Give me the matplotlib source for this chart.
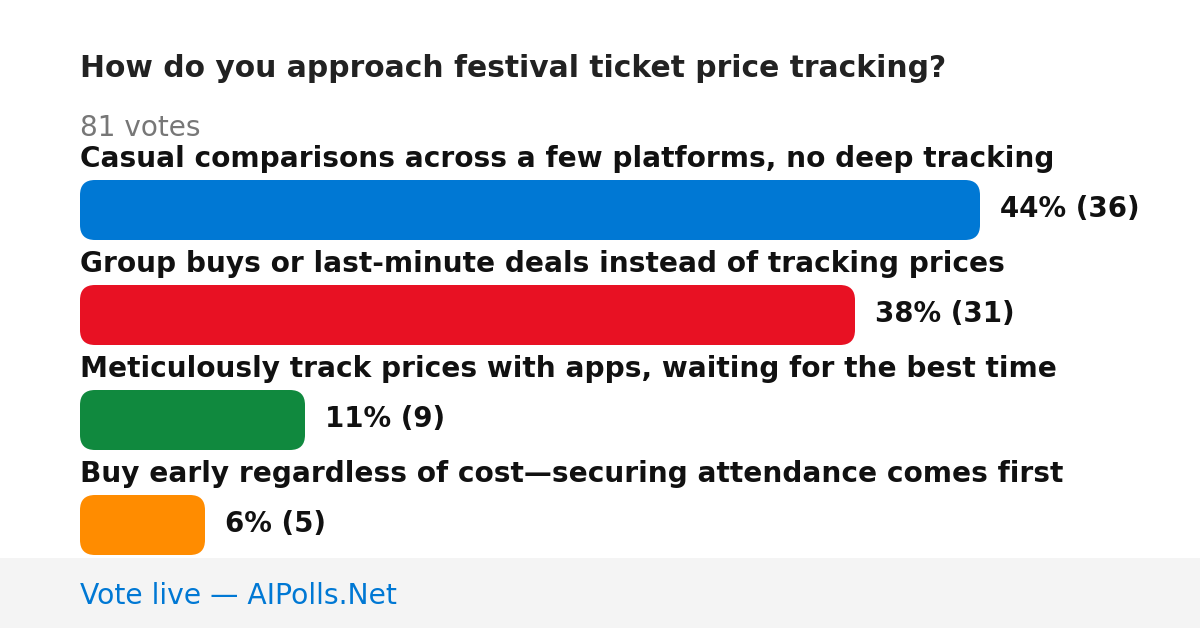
import matplotlib
matplotlib.use("Agg")
import matplotlib.pyplot as plt
from matplotlib.patches import FancyBboxPatch, Rectangle

plt.rcParams["font.family"] = ["DejaVu Sans"]

title = "How do you approach festival ticket price tracking?"
total_label = "81 votes"
options = [
    "Casual comparisons across a few platforms, no deep tracking",
    "Group buys or last-minute deals instead of tracking prices",
    "Meticulously track prices with apps, waiting for the best time",
    "Buy early regardless of cost\u2014securing attendance comes first",
]
votes = [36, 31, 9, 5]
percents = [44, 38, 11, 6]
colors = ["#0078d4", "#e81123", "#10893e", "#ff8c00"]
footer = "Vote live \u2014 AIPolls.Net"

W, H = 1200, 628
fig = plt.figure(figsize=(W / 100, H / 100), dpi=100)
fig.patch.set_facecolor("white")

ax = fig.add_axes([0, 0, 1, 1])
ax.set_xlim(0, W)
ax.set_ylim(H, 0)
ax.axis("off")

ax.add_patch(Rectangle((0, 558), W, H - 558, facecolor="#f4f4f4", edgecolor="none"))

ax.text(80, 77, title, fontsize=21.4, fontweight="bold", color="#222222", va="baseline", ha="left")
ax.text(80, 136, total_label, fontsize=20.1, color="#777777", va="baseline", ha="left")
ax.text(80, 604, footer, fontsize=20.3, color="#0078d4", va="baseline", ha="left")

px_per_vote = 25.0
left_px = 80
bx = fig.add_axes([left_px / W, 0, 1 - left_px / W, 1])
bx.set_xlim(0, (W - left_px) / px_per_vote)
bx.set_ylim(H, 0)
bx.axis("off")
bx.patch.set_alpha(0)

bar_top0 = 180
step = 105
bar_h = 60
radius_px = 15
for i, (opt, v, p, c) in enumerate(zip(options, votes, percents, colors)):
    top = bar_top0 + i * step
    bx.text(0, top - 13, opt, fontsize=20.2, fontweight="bold", color="#111111", va="baseline", ha="left")
    r = radius_px / px_per_vote
    patch = FancyBboxPatch((0, top), v, bar_h,
                           boxstyle=f"round,pad=0,rounding_size={r}",
                           mutation_aspect=px_per_vote,
                           facecolor=c, edgecolor="none")
    bx.add_patch(patch)
    bx.text(v + 20 / px_per_vote, top + 37, f"{p}% ({v})", fontsize=19.9, fontweight="bold",
            color="#111111", va="baseline", ha="left")

fig.savefig("out.png", dpi=100, facecolor="white")
